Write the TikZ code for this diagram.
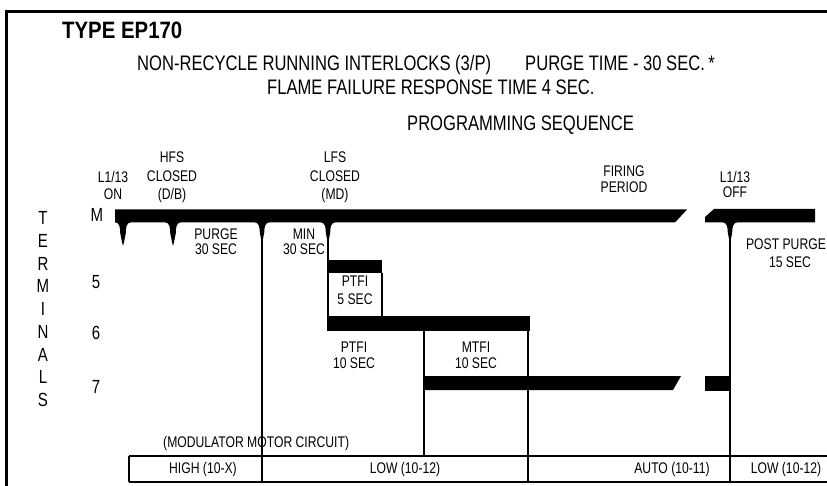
\documentclass[tikz,border=0pt]{standalone}
\usepackage{fontspec}
\setmainfont{Liberation Sans}
\newfontfamily\condf[FakeStretch=0.79]{Liberation Sans}
\newfontfamily\titlef[FakeStretch=0.86]{Liberation Sans}
\newcommand{\dripnotch}[1]{%
  \fill ({#1-8},222) .. controls ({#1-3.5},223) and ({#1-2.8},227) .. ({#1-2.8},233)
        -- ({#1-1},242) -- (#1,246) -- ({#1+1},242) -- ({#1+2.8},233)
        .. controls ({#1+2.8},227) and ({#1+3.5},223) .. ({#1+8},222) -- cycle;}
\newcommand{\stemnotch}[1]{%
  \fill ({#1-7.5},222) .. controls ({#1-3},223) and ({#1-2.3},227) .. ({#1-2.3},232)
        -- ({#1-1},239) -- ({#1+1},239) -- ({#1+2.3},232)
        .. controls ({#1+2.3},227) and ({#1+3},223) .. ({#1+7.5},222) -- cycle;}
\begin{document}
\begin{tikzpicture}[x=1pt,y=-1pt,
  hdr/.style={font=\condf\fontsize{21}{21}\selectfont, inner sep=0pt, anchor=base west},
  lbl/.style={font=\condf\fontsize{15.4}{17}\selectfont, inner sep=0pt, anchor=base},
  term/.style={font=\condf\fontsize{19}{19}\selectfont, inner sep=0pt, anchor=center},
  vline/.style={line width=1.6pt},
  thinline/.style={line width=1.2pt}]
\useasboundingbox (0,0) rectangle (827,486);
\clip (0,0) rectangle (827,486);
% frame
\draw[line width=3pt] (6,495) -- (6,11.5) -- (840,11.5);
% header texts
\node[font=\titlef\bfseries\fontsize{23.7}{24}\selectfont, inner sep=0pt, anchor=base west] (title) at (62,39) {TYPE EP170};
\node[hdr] (h1) at (137,71) {NON-RECYCLE RUNNING INTERLOCKS (3/P)};
\node[hdr] (h1b) at (525,71) {PURGE TIME - 30 SEC.\,*};
\node[hdr] (h2) at (267,95) {FLAME FAILURE RESPONSE TIME 4 SEC.};
\node[hdr] (h3) at (407,131) {PROGRAMMING SEQUENCE};
% labels above M bar
\node[lbl] (on1) at (113,183) {L1/13};
\node[lbl] (on2) at (113,200) {ON};
\node[lbl] (hfs1) at (172,163) {HFS};
\node[lbl] (hfs2) at (172,182) {CLOSED};
\node[lbl] (hfs3) at (172,200) {(D/B)};
\node[lbl] (lfs1) at (335,163) {LFS};
\node[lbl] (lfs2) at (335,182) {CLOSED};
\node[lbl] (lfs3) at (335,200) {(MD)};
\node[lbl] (fir1) at (624,177) {FIRING};
\node[lbl] (fir2) at (624,193) {PERIOD};
\node[lbl] (off1) at (735,183) {L1/13};
\node[lbl] (off2) at (735,198) {OFF};
% terminal labels
\node[term] (tM) at (97,215) {M};
\node[term] (t5) at (96,282) {5};
\node[term] (t6) at (96,333) {6};
\node[term] (t7) at (96,387) {7};
\foreach \ch [count=\i from 0] in {T,E,R,M,I,N,A,L,S}
  \node[term] (tl\i) at (43,{218+22.75*\i}) {\ch};
% M bar
\fill (115,209.5) -- (687,209.5) -- (675,222.5) -- (115,222.5) -- cycle;
\fill (714,209) -- (815,209) -- (815,222.5) -- (705,222.5) -- (705,217) -- cycle;
\dripnotch{123}
\dripnotch{173}
\stemnotch{262}
\stemnotch{328}
\stemnotch{730}
% 5, 6, 7 bars
\fill (327,260) rectangle (382,273);
\fill (327,316) rectangle (530,331);
\fill (423,376) -- (681,376) -- (673,390) -- (423,390) -- cycle;
\fill (705,376) rectangle (731,391);
% vertical lines
\draw[vline] (262,222) -- (262,482);
\draw[vline] (328,222) -- (328,316);
\draw[thinline] (382,273) -- (382,316);
\draw[vline] (424,331) -- (424,456);
\draw[vline] (528,331) -- (528,482);
\draw[vline] (730,222) -- (730,482);
% period labels
\node[lbl] (pur1) at (216,240) {PURGE};
\node[lbl] (pur2) at (216,255) {30 SEC};
\node[lbl] (min1) at (304,240) {MIN};
\node[lbl] (min2) at (304,255) {30 SEC};
\node[lbl] (p5a) at (355,287) {PTFI};
\node[lbl] (p5b) at (355,305) {5 SEC};
\node[lbl] (p10a) at (354,352) {PTFI};
\node[lbl] (p10b) at (354,368) {10 SEC};
\node[lbl] (m10a) at (476,352) {MTFI};
\node[lbl] (m10b) at (476,368) {10 SEC};
\node[lbl] (pp1) at (786,250) {POST PURGE};
\node[lbl] (pp2) at (790,268) {15 SEC};
% modulator table
\node[lbl, anchor=base west] (mod) at (163,447) {(MODULATOR MOTOR CIRCUIT)};
\draw[vline] (262,430) -- (262,456);
\draw[thinline] (129,456) -- (840,456);
\draw[thinline] (129,482) -- (840,482);
\draw[thinline] (129,456) -- (129,482);
\node[lbl] (hi) at (203,473) {HIGH (10-X)};
\node[lbl] (lo1) at (405,473) {LOW (10-12)};
\node[lbl] (au) at (672,473) {AUTO (10-11)};
\node[lbl] (lo2) at (786,473) {LOW (10-12)};
\end{tikzpicture}
\end{document}
